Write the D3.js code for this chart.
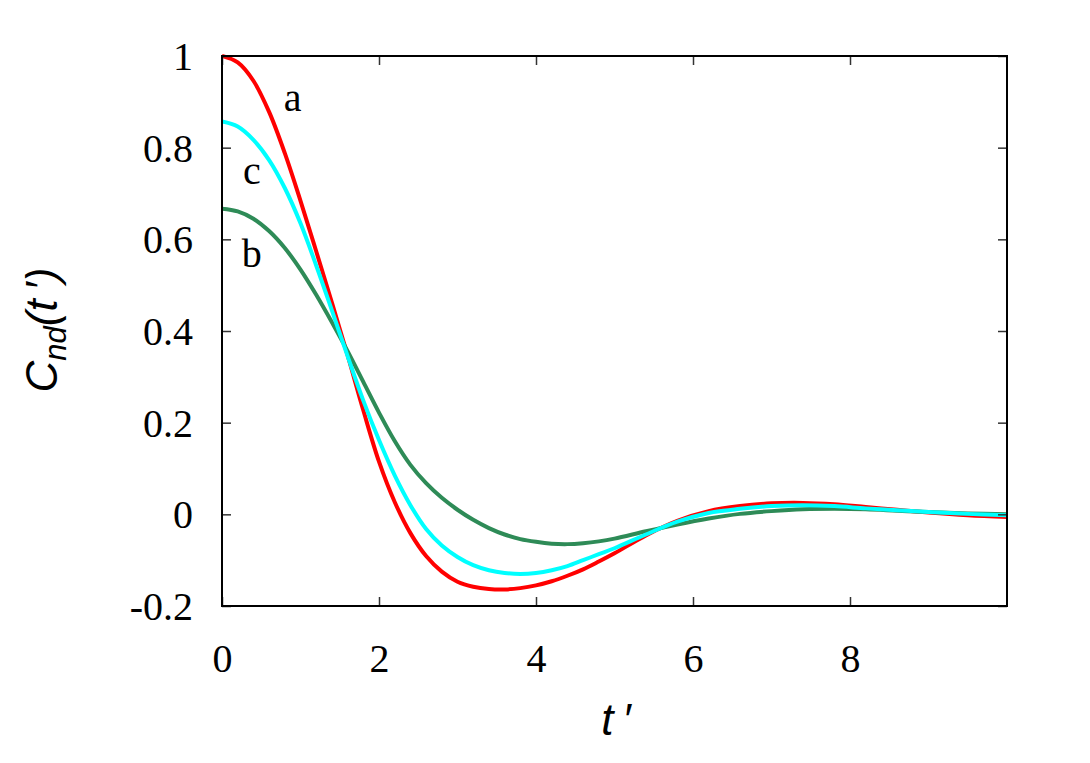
<!DOCTYPE html>
<html>
<head>
<meta charset="utf-8">
<script src="https://cdn.jsdelivr.net/npm/d3@7"></script>
<style>
html,body{margin:0;padding:0;background:#fff;}
svg{display:block;}
</style>
</head>
<body>
<script>
// ---- data ----
const tValues = [0,0.2,0.4,0.6,0.8,1.0,1.2,1.4,1.6,1.8,2.0,2.2,2.4,2.6,2.8,3.0,3.2,3.4,3.6,3.8,4.0,4.2,4.4,4.6,4.8,5.0,5.4,5.8,6.2,6.6,7.0,7.4,7.8,8.2,8.6,9.0,9.5,10];
const seriesA = [1.0,0.986,0.946,0.878,0.788,0.684,0.574,0.462,0.347,0.227,0.115,0.027,-0.041,-0.091,-0.125,-0.147,-0.158,-0.163,-0.164,-0.161,-0.155,-0.146,-0.134,-0.120,-0.103,-0.085,-0.046,-0.014,0.007,0.018,0.024,0.025,0.022,0.016,0.010,0.004,-0.002,-0.006];
const seriesC = [0.857,0.846,0.817,0.773,0.712,0.635,0.543,0.445,0.345,0.248,0.162,0.085,0.020,-0.032,-0.068,-0.093,-0.111,-0.122,-0.128,-0.130,-0.128,-0.122,-0.113,-0.100,-0.087,-0.074,-0.044,-0.016,0.003,0.012,0.018,0.020,0.018,0.013,0.009,0.005,0.001,-0.002];
const seriesB = [0.667,0.661,0.645,0.618,0.581,0.534,0.479,0.419,0.356,0.289,0.222,0.160,0.108,0.068,0.036,0.010,-0.012,-0.030,-0.044,-0.054,-0.060,-0.064,-0.065,-0.063,-0.059,-0.053,-0.037,-0.022,-0.009,0.001,0.007,0.011,0.012,0.011,0.008,0.005,0.002,0.000];
const seriesNames = ["a","b","c"];
const xTicks = [0,2,4,6,8];
const yTicks = [-0.2,0,0.2,0.4,0.6,0.8,1];
const yTickLabels = ["-0.2","0","0.2","0.4","0.6","0.8","1"];

// ---- layout ----
const W = 1090, H = 763;
const L = 222, R = 1007, T = 56, B = 606;
const svg = d3.select("body").append("svg").attr("width", W).attr("height", H);

const x = d3.scaleLinear().domain([0,10]).range([L,R]);
const y = d3.scaleLinear().domain([-0.2,1]).range([B,T]);

const serif = "'Liberation Serif','Times New Roman',serif";
const sans = "'Liberation Sans',Arial,sans-serif";

// curves
const line = d3.line().x(d=>x(d[0])).y(d=>y(d[1])).curve(d3.curveCatmullRom.alpha(0.5));
const curves = [
  {vals: seriesA, color: "#ff0000"},
  {vals: seriesB, color: "#2e8b57"},
  {vals: seriesC, color: "#00ffff"}
];
svg.append("clipPath").attr("id","clip").append("rect")
  .attr("x",L).attr("y",T-3).attr("width",R-L).attr("height",B-T+3);
const g = svg.append("g").attr("clip-path","url(#clip)");
curves.forEach(c=>{
  g.append("path").datum(tValues.map((t,i)=>[t,c.vals[i]]))
    .attr("d", line).attr("fill","none").attr("stroke",c.color).attr("stroke-width",4);
});

// axes with mirrored inward ticks
const tickLen = 9;
const axB = d3.axisBottom(x).tickValues(xTicks).tickSize(-tickLen).tickSizeOuter(0).tickFormat(d3.format("d"));
const axT = d3.axisTop(x).tickValues(xTicks).tickSize(-tickLen).tickSizeOuter(0).tickFormat("");
const axL = d3.axisLeft(y).tickValues(yTicks).tickSize(-tickLen).tickSizeOuter(0).tickFormat((d,i)=>yTickLabels[i]);
const axR = d3.axisRight(y).tickValues(yTicks).tickSize(-tickLen).tickSizeOuter(0).tickFormat("");

function style(sel){
  sel.select(".domain").remove();
  sel.selectAll(".tick line").attr("stroke","#333").attr("stroke-width",1.5);
  sel.selectAll(".tick text").attr("font-family",serif).attr("font-size",40).attr("fill","#000");
}
const gb = svg.append("g").attr("transform",`translate(0,${B})`).call(axB).call(style);
gb.selectAll(".tick text").attr("dy",0).attr("y",66);
svg.append("g").attr("transform",`translate(0,${T})`).call(axT).call(style);
const gl = svg.append("g").attr("transform",`translate(${L},0)`).call(axL).call(style);
gl.selectAll(".tick text").attr("x",-29).attr("dy","0.34em");
svg.append("g").attr("transform",`translate(${R},0)`).call(axR).call(style);

// frame
svg.append("rect").attr("x",L).attr("y",T).attr("width",R-L).attr("height",B-T)
  .attr("fill","none").attr("stroke","#000").attr("stroke-width",2);

// curve labels
const labelPos = [[0.9,0.88],[0.38,0.54],[0.38,0.72]];
seriesNames.forEach((n,i)=>{
  svg.append("text").attr("x",x(labelPos[i][0])).attr("y",y(labelPos[i][1]))
    .attr("font-family",serif).attr("font-size",40).attr("text-anchor","middle").text(n);
});

// axis titles
svg.append("text").attr("x",616).attr("y",735)
  .attr("font-family",sans).attr("font-style","italic").attr("font-size",44)
  .attr("text-anchor","middle").text("t\u2009\u2032");
const yt = svg.append("text").attr("transform","translate(57,330) rotate(-90)")
  .attr("font-family",sans).attr("font-style","italic").attr("font-size",44)
  .attr("text-anchor","middle");
yt.append("tspan").text("C");
yt.append("tspan").attr("font-size",31).attr("dy",9).text("nd");
yt.append("tspan").attr("dy",-9).text("(t\u2009\u2032)");
</script>
</body>
</html>
